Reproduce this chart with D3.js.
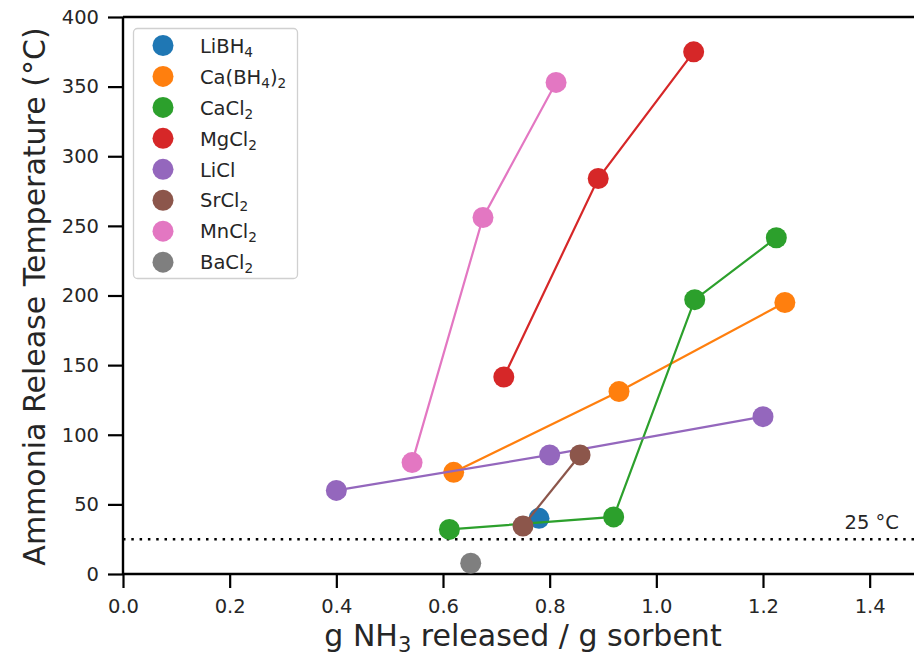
<!DOCTYPE html>
<html>
<head>
<meta charset="utf-8">
<script src="https://cdn.jsdelivr.net/npm/d3@7"></script>
<style>
  html, body { margin: 0; padding: 0; background: #fff; }
  svg { display: block; font-family: "DejaVu Sans", sans-serif; }
</style>
</head>
<body>
<svg id="chart" width="914" height="657"></svg>
<script>
// Sorbents (legend order), label parts as [text, isSubscript]
const sorbents = ["LiBH4", "Ca(BH4)2", "CaCl2", "MgCl2", "LiCl", "SrCl2", "MnCl2", "BaCl2"];
const sorbentLabels = [
  [["LiBH", false], ["4", true]],
  [["Ca(BH", false], ["4", true], [")", false], ["2", true]],
  [["CaCl", false], ["2", true]],
  [["MgCl", false], ["2", true]],
  [["LiCl", false]],
  [["SrCl", false], ["2", true]],
  [["MnCl", false], ["2", true]],
  [["BaCl", false], ["2", true]]
];
const colors = ["#1f77b4", "#ff7f0e", "#2ca02c", "#d62728", "#9467bd", "#8c564b", "#e377c2", "#7f7f7f"];

// g NH3 released per g sorbent, one array per sorbent
const releasedLiBH4   = [0.78];
const releasedCaBH42  = [0.62, 0.93, 1.241];
const releasedCaCl2   = [0.612, 0.92, 1.072, 1.225];
const releasedMgCl2   = [0.714, 0.891, 1.07];
const releasedLiCl    = [0.40, 0.80, 1.20];
const releasedSrCl2   = [0.75, 0.857];
const releasedMnCl2   = [0.542, 0.675, 0.812];
const releasedBaCl2   = [0.652];

// Release temperature (°C), one array per sorbent
const tempLiBH4   = [40];
const tempCaBH42  = [73, 131, 195];
const tempCaCl2   = [32, 41, 197, 241.5];
const tempMgCl2   = [141.5, 284, 375];
const tempLiCl    = [60, 85.5, 113];
const tempSrCl2   = [34.5, 85.5];
const tempMnCl2   = [80, 256, 353];
const tempBaCl2   = [7.7];

const releasedAll = [releasedLiBH4, releasedCaBH42, releasedCaCl2, releasedMgCl2,
                     releasedLiCl, releasedSrCl2, releasedMnCl2, releasedBaCl2];
const tempAll = [tempLiBH4, tempCaBH42, tempCaCl2, tempMgCl2,
                 tempLiCl, tempSrCl2, tempMnCl2, tempBaCl2];

const xTicks = [0.0, 0.2, 0.4, 0.6, 0.8, 1.0, 1.2, 1.4];
const yTicks = [0, 50, 100, 150, 200, 250, 300, 350, 400];
const roomTemp = 25;

const svg = d3.select("#chart");
const plotLeft = 123, plotTop = 17, plotRight = 923, plotBottom = 574;
const fontSize = 19.5;
const markerR = 10.5;

const x = d3.scaleLinear().domain([0, 1.5]).range([plotLeft, plotRight]);
const y = d3.scaleLinear().domain([0, 400]).range([plotBottom, plotTop]);

// Axes
const xAxis = svg.append("g")
  .attr("transform", `translate(0,${plotBottom})`)
  .call(d3.axisBottom(x).tickValues(xTicks).tickFormat(d3.format(".1f")).tickSize(14).tickPadding(11));
const yAxis = svg.append("g")
  .attr("transform", `translate(${plotLeft},0)`)
  .call(d3.axisLeft(y).tickValues(yTicks).tickFormat(d3.format("d")).tickSize(15).tickPadding(9));

[xAxis, yAxis].forEach(g => {
  g.select(".domain").remove();
  g.selectAll(".tick line").attr("stroke", "#000").attr("stroke-width", 2.2);
  g.selectAll(".tick text").attr("font-size", fontSize).attr("fill", "#262626")
    .attr("font-family", "DejaVu Sans, sans-serif");
});

// Spines
const spine = (x1, y1, x2, y2) => svg.append("line")
  .attr("x1", x1).attr("y1", y1).attr("x2", x2).attr("y2", y2)
  .attr("stroke", "#000").attr("stroke-width", 2.4);
spine(plotLeft, plotBottom, plotRight, plotBottom);
spine(plotLeft, plotTop, plotRight, plotTop);
spine(plotLeft, plotTop, plotLeft, plotBottom);

// 25 °C reference line
svg.append("line")
  .attr("x1", plotLeft).attr("x2", plotRight)
  .attr("y1", y(roomTemp)).attr("y2", y(roomTemp))
  .attr("stroke", "#000").attr("stroke-width", 2.5)
  .attr("stroke-dasharray", "2.5,5.8");
svg.append("text")
  .attr("x", 899).attr("y", y(roomTemp) - 10)
  .attr("text-anchor", "end")
  .attr("font-size", fontSize).attr("fill", "#262626")
  .text("25 °C");

// Series: connecting lines then markers
const line = d3.line().x(d => x(d[0])).y(d => y(d[1]));
sorbents.forEach((name, i) => {
  const pts = releasedAll[i].map((v, j) => [v, tempAll[i][j]]);
  const g = svg.append("g").attr("class", "series");
  if (pts.length > 1) {
    g.append("path").datum(pts)
      .attr("d", line).attr("fill", "none")
      .attr("stroke", colors[i]).attr("stroke-width", 2.2);
  }
  g.selectAll("circle").data(pts).join("circle")
    .attr("cx", d => x(d[0])).attr("cy", d => y(d[1]))
    .attr("r", markerR).attr("fill", colors[i]);
});

// Legend
const legend = svg.append("g");
legend.append("rect")
  .attr("x", 133.5).attr("y", 28.5).attr("width", 164).attr("height", 250)
  .attr("rx", 4).attr("fill", "#fff").attr("fill-opacity", 0.85)
  .attr("stroke", "#d0d0d0").attr("stroke-width", 1.3);
sorbents.forEach((name, i) => {
  const cy = 45.5 + i * 30.95;
  legend.append("circle").attr("cx", 163).attr("cy", cy).attr("r", markerR).attr("fill", colors[i]);
  const t = legend.append("text").attr("x", 200).attr("y", cy + 7.2)
    .attr("font-size", fontSize).attr("fill", "#262626");
  let lowered = false;
  sorbentLabels[i].forEach(([s, sub]) => {
    const ts = t.append("tspan").text(s);
    if (sub) { ts.attr("font-size", fontSize * 0.7).attr("dy", 4); lowered = true; }
    else if (lowered) { ts.attr("dy", -4); lowered = false; }
  });
});

// Axis titles
const xt = svg.append("text")
  .attr("x", x(0.75)).attr("y", 646)
  .attr("text-anchor", "middle").attr("font-size", 30).attr("fill", "#262626");
xt.append("tspan").text("g NH");
xt.append("tspan").text("3").attr("font-size", 21).attr("dy", 6);
xt.append("tspan").text(" released / g sorbent").attr("dy", -6);

svg.append("text")
  .attr("transform", `translate(45,${(23 + 570) / 2}) rotate(-90)`)
  .attr("text-anchor", "middle").attr("font-size", 30).attr("fill", "#262626")
  .text("Ammonia Release Temperature (°C)");
</script>
</body>
</html>
